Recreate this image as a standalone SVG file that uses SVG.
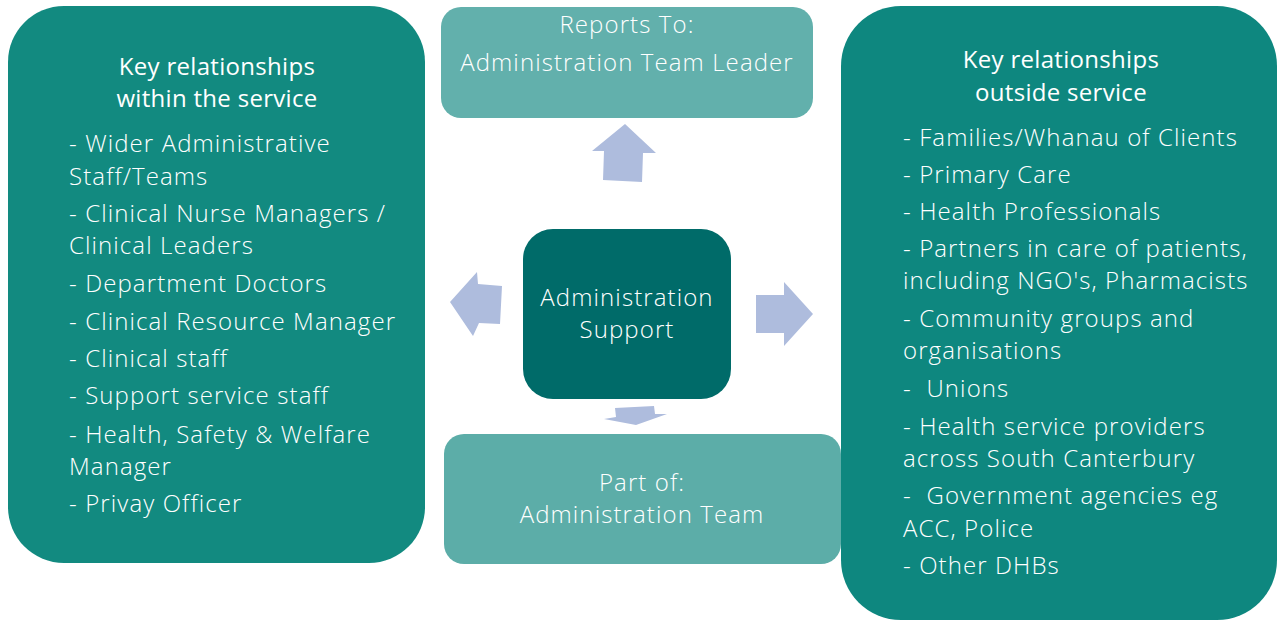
<svg xmlns="http://www.w3.org/2000/svg" width="1277" height="621" viewBox="0 0 1277 621">
<style>
.t{font-family:"Open Sans","Noto Sans","Liberation Sans",sans-serif;font-weight:300;font-size:24px;letter-spacing:1.1px;fill:#ffffff}
.h{font-family:"Open Sans","Noto Sans","Liberation Sans",sans-serif;font-weight:400;font-size:24px;letter-spacing:0.3px;fill:#ffffff;text-anchor:middle}
.c{text-anchor:middle}
.arrow{fill:#aebcdd}
</style>
<rect width="1277" height="621" fill="#ffffff"/>
<g id="connectors">
<polygon class="arrow" points="625,124 656,153 643,153 642,182 603,180 604,151 592,151"/>
<polygon class="arrow" points="450,302 477,272 478,284 502,286 500,324 479,323 473,336"/>
<polygon class="arrow" points="756,295 784,295 784,282 813,314 784,346 784,333 756,333"/>
<polygon class="arrow" points="615,408 654,406 655,414 667,414 636,425 604,419 616,417"/>
</g>
<g id="within">
<rect x="8" y="6" width="417" height="557" rx="56" ry="56" fill="#128a80"/>
<text class="h" x="217" y="75">Key relationships</text>
<text class="h" x="217" y="107">within the service</text>
<text class="t" x="69" y="152">- Wider Administrative</text>
<text class="t" x="69" y="185">Staff/Teams</text>
<text class="t" x="69" y="222">- Clinical Nurse Managers /</text>
<text class="t" x="69" y="254">Clinical Leaders</text>
<text class="t" x="69" y="292">- Department Doctors</text>
<text class="t" x="69" y="330">- Clinical Resource Manager</text>
<text class="t" x="69" y="367">- Clinical staff</text>
<text class="t" x="69" y="404">- Support service staff</text>
<text class="t" x="69" y="443">- Health, Safety &amp; Welfare</text>
<text class="t" x="69" y="475">Manager</text>
<text class="t" x="69" y="512">- Privay Officer</text>
</g>
<g id="outside">
<rect x="841" y="6" width="436" height="614" rx="60" ry="60" fill="#0e877f"/>
<text class="h" x="1061" y="68">Key relationships</text>
<text class="h" x="1061" y="101">outside service</text>
<text class="t" x="903" y="146">- Families/Whanau of Clients</text>
<text class="t" x="903" y="183">- Primary Care</text>
<text class="t" x="903" y="220">- Health Professionals</text>
<text class="t" x="903" y="257">- Partners in care of patients,</text>
<text class="t" x="903" y="289">including NGO's, Pharmacists</text>
<text class="t" x="903" y="327">- Community groups and</text>
<text class="t" x="903" y="359">organisations</text>
<text class="t" x="903" y="397" xml:space="preserve">-  Unions</text>
<text class="t" x="903" y="435">- Health service providers</text>
<text class="t" x="903" y="467">across South Canterbury</text>
<text class="t" x="903" y="504" xml:space="preserve">-  Government agencies eg</text>
<text class="t" x="903" y="537">ACC, Police</text>
<text class="t" x="903" y="574">- Other DHBs</text>
</g>
<g id="reports-to">
<rect x="441" y="7" width="372" height="111" rx="20" ry="20" fill="#62b0ac"/>
<text class="t c" x="627" y="33">Reports To:</text>
<text class="t c" x="627" y="71">Administration Team Leader</text>
</g>
<g id="admin-support">
<rect x="523" y="229" width="208" height="170" rx="30" ry="30" fill="#006b69"/>
<text class="t c" x="627" y="306">Administration</text>
<text class="t c" x="627" y="338">Support</text>
</g>
<g id="part-of">
<rect x="444" y="434" width="397" height="130" rx="20" ry="20" fill="#5cada8"/>
<text class="t c" x="642" y="491">Part of:</text>
<text class="t c" x="642" y="523">Administration Team</text>
</g>
</svg>
